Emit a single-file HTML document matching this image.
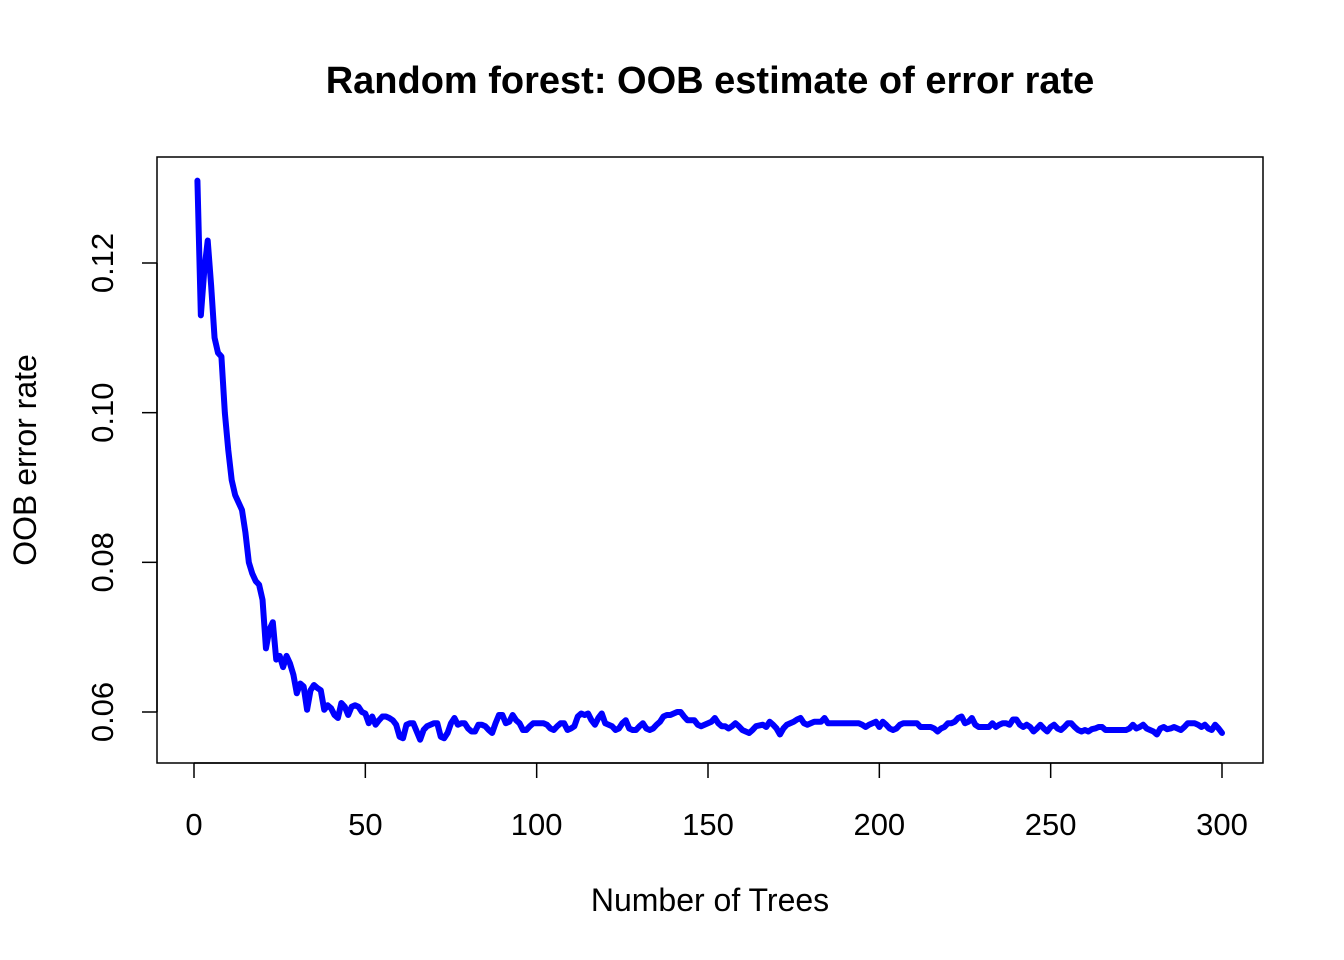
<!DOCTYPE html>
<html><head><meta charset="utf-8"><style>
html,body{margin:0;padding:0;background:#fff;}
svg{display:block;font-family:"Liberation Sans",Arial,sans-serif;}
</style></head><body>
<svg id="chart" width="1344" height="960" viewBox="0 0 1344 960" xmlns="http://www.w3.org/2000/svg">
<rect x="0" y="0" width="1344" height="960" fill="#fff"/>
<text x="710" y="93" text-anchor="middle" font-size="38" font-weight="bold">Random forest: OOB estimate of error rate</text>
<rect x="157" y="157" width="1106" height="606" fill="none" stroke="#000" stroke-width="1.5"/>
<g id="xaxis"></g>
<g id="yaxis"></g>
<text x="710" y="911" text-anchor="middle" font-size="32">Number of Trees</text>
<text transform="translate(36,460) rotate(-90)" text-anchor="middle" font-size="32">OOB error rate</text>
<g id="series"></g>
</svg>
<script>
const xTicks = [0, 50, 100, 150, 200, 250, 300];
const yTicks = [0.06, 0.08, 0.10, 0.12];
const yTickLabels = ["0.06", "0.08", "0.10", "0.12"];
const oobError = [
.131,.113,.119,.123,.117,.110,.108,.1075,.100,.095,
.091,.089,.088,.087,.084,.080,.0785,.0775,.077,.075,
.0685,.071,.072,.067,.0675,.066,.0675,.0665,.065,.0625,
.0638,.0634,.0603,.0629,.0636,.0632,.0629,.0603,.0609,.0605,
.0596,.0592,.0612,.0607,.0596,.0607,.0609,.0607,.0600,.0598,
.0585,.0594,.0583,.0589,.0594,.0594,.0592,.0589,.0583,.0567,
.0565,.0583,.0585,.0585,.0574,.0563,.0576,.0581,.0583,.0585,
.0585,.0567,.0565,.0572,.0585,.0592,.0583,.0585,.0585,.0578,
.0574,.0574,.0583,.0583,.0581,.0576,.0572,.0585,.0596,.0596,
.0585,.0587,.0596,.0589,.0585,.0576,.0576,.0581,.0585,.0585,
.0585,.0585,.0583,.0578,.0576,.0581,.0585,.0585,.0576,.0578,
.0581,.0594,.0598,.0596,.0598,.0589,.0583,.0592,.0598,.0585,
.0583,.0581,.0576,.0578,.0585,.0589,.0578,.0576,.0576,.0581,
.0585,.0578,.0576,.0578,.0583,.0587,.0594,.0596,.0596,.0598,
.0600,.0600,.0594,.0589,.0589,.0589,.0583,.0581,.0583,.0585,
.0587,.0592,.0585,.0581,.0581,.0578,.0581,.0585,.0581,.0576,
.0574,.0572,.0576,.0581,.0582,.0583,.0580,.0587,.0583,.0578,
.0570,.0578,.0583,.0585,.0587,.0590,.0592,.0585,.0583,.0585,
.0587,.0587,.0587,.0592,.0585,.0585,.0585,.0585,.0585,.0585,
.0585,.0585,.0585,.0585,.0583,.0580,.0583,.0585,.0587,.0580,
.0587,.0583,.0578,.0576,.0578,.0583,.0585,.0585,.0585,.0585,
.0585,.0580,.0580,.0580,.0580,.0578,.0574,.0578,.0580,.0585,
.0585,.0587,.0592,.0594,.0585,.0587,.0592,.0583,.0580,.0580,
.0580,.0580,.0585,.0580,.0583,.0585,.0585,.0583,.0590,.0590,
.0583,.0580,.0583,.0580,.0574,.0578,.0583,.0578,.0574,.0580,
.0583,.0578,.0576,.0580,.0585,.0585,.0580,.0576,.0574,.0576,
.0574,.0577,.0578,.0580,.0580,.0576,.0576,.0576,.0576,.0576,
.0576,.0576,.0578,.0583,.0578,.0580,.0583,.0578,.0576,.0574,
.0570,.0578,.0580,.0577,.0578,.0580,.0578,.0576,.0580,.0585,
.0585,.0585,.0583,.0580,.0583,.0578,.0576,.0583,.0578,.0572
];
const NS = "http://www.w3.org/2000/svg";
function xScale(v){ return 194 + (v - 0) * (1222 - 194) / 300; }
function yScale(v){ return 712 - (v - 0.06) * (712 - 263) / 0.06; }
const xg = document.getElementById('xaxis');
const yg = document.getElementById('yaxis');
const sg = document.getElementById('series');
function mk(tag, attrs, parent){ const e = document.createElementNS(NS, tag); for (const k in attrs) e.setAttribute(k, attrs[k]); parent.appendChild(e); return e; }
const xLine = mk('line', {x1: xScale(xTicks[0]), x2: xScale(xTicks[xTicks.length-1]), y1: 763, y2: 763, stroke: '#000', 'stroke-width': 1.5}, xg);


xTicks.forEach(t => {
  const tk = mk('line', {x1: xScale(t), x2: xScale(t), y1: 763, y2: 778, stroke: '#000', 'stroke-width': 1.5}, xg);
  
  
  const lb = mk('text', {x: xScale(t), y: 835, 'text-anchor': 'middle', 'font-size': 31}, xg);
  
  
  lb.textContent = String(t);
});
const yLine = mk('line', {x1: 157, x2: 157, y1: yScale(yTicks[0]), y2: yScale(yTicks[yTicks.length-1]), stroke: '#000', 'stroke-width': 1.5}, yg);


yTicks.forEach((t, i) => {
  const tk = mk('line', {x1: 142, x2: 157, y1: yScale(t), y2: yScale(t), stroke: '#000', 'stroke-width': 1.5}, yg);
  
  
  const lb = mk('text', {transform: 'translate(113,' + yScale(t) + ') rotate(-90)', 'text-anchor': 'middle', 'font-size': 31}, yg);
  
  
  lb.textContent = yTickLabels[i];
});
const pts = oobError.map((v, i) => xScale(i + 1).toFixed(2) + ',' + yScale(v).toFixed(2)).join(' ');
const pl = mk('polyline', {points: pts, fill: 'none', stroke: '#0000FF', 'stroke-width': 6, 'stroke-linejoin': 'round', 'stroke-linecap': 'round'}, sg);


</script>
</body></html>
